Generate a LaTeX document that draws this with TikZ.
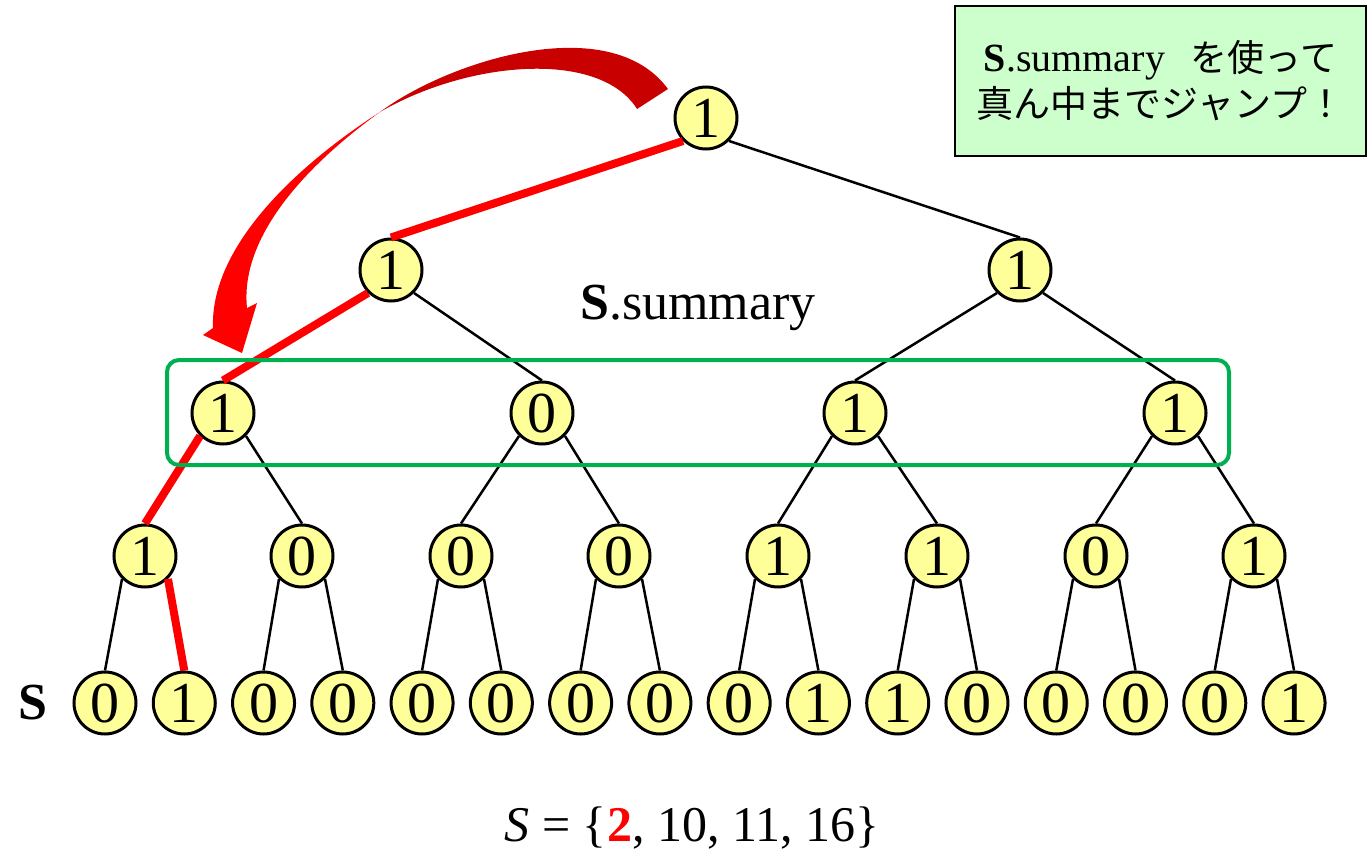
\documentclass[tikz,border=0pt]{standalone}
\usepackage{fontspec}
\setmainfont{Liberation Serif}
\newfontfamily\jpfont{Noto Sans CJK JP}
\definecolor{nodefill}{HTML}{FFFF99}
\definecolor{boxgreen}{HTML}{00B050}
\definecolor{notefill}{HTML}{CCFFCC}
\definecolor{darkarrow}{HTML}{C80000}
\begin{document}
\begin{tikzpicture}[x=1pt,y=-1pt,
  bit/.style={circle,draw,line width=3pt,fill=nodefill,minimum size=62pt,inner sep=0pt,
              font=\fontsize{58}{58}\selectfont},
  edge/.style={line width=2.5pt,black},
  hot/.style={line width=8pt,red},
  label/.style={inner sep=0pt,font=\fontsize{52}{52}\selectfont}]
\useasboundingbox (0,0) rectangle (1369,856);

% leaves: the bit vector S
\foreach \b [count=\i] in {0,1,0,0,0,0,0,0,0,1,1,0,0,0,0,1}
  \node[bit] (L\i) at ({105+79.27*(\i-1)},703) {\b};
% summary levels
\foreach \b/\x [count=\i] in {1/145,0/302,0/461,0/619,1/778,1/937,0/1096,1/1254}
  \node[bit] (M\i) at (\x,556) {\b};
\foreach \b/\x [count=\i] in {1/223,0/542,1/855,1/1175}
  \node[bit] (N\i) at (\x,413) {\b};
\node[bit] (P1) at (391,270) {1};
\node[bit] (P2) at (1020,270) {1};
\node[bit] (R) at (706,118) {1};

% tree edges
\foreach \i [evaluate=\i as \a using int(2*\i-1), evaluate=\i as \c using int(2*\i)] in {1,...,8} {
  \draw[edge] (M\i.-135) -- (L\a.north);
  \draw[edge] (M\i.-45) -- (L\c.north);
}
\foreach \i [evaluate=\i as \a using int(2*\i-1), evaluate=\i as \c using int(2*\i)] in {1,...,4} {
  \draw[edge] (N\i.-135) -- (M\a.north);
  \draw[edge] (N\i.-45) -- (M\c.north);
}
\foreach \i [evaluate=\i as \a using int(2*\i-1), evaluate=\i as \c using int(2*\i)] in {1,2} {
  \draw[edge] (P\i.-135) -- (N\a.north);
  \draw[edge] (P\i.-45) -- (N\c.north);
}
\draw[edge] (R.-135) -- (P1.north);
\draw[edge] (R.-45) -- (P2.north);

% search path down to element 2
\draw[hot] (R.-135) -- (P1.north);
\draw[hot] (P1.-135) -- (N1.north);
\draw[hot] (N1.-135) -- (M1.north);
\draw[hot] (M1.-45) -- (L2.north);

% summary level frame
\draw[boxgreen,line width=4pt,rounded corners=12pt] (167,360) rectangle (1229,465);

% jump arrow: back half (dark) and front half with head (bright)
\fill[darkarrow] (380,112) .. controls (450,60) and (610,10) .. (668,89)
  -- (637,109) .. controls (600,50) and (470,60) .. (380,112) -- cycle;
\fill[red] (380,112) .. controls (290,170) and (210,250) .. (213,328)
  -- (203,335) -- (242,353) -- (257,303) -- (247,308)
  .. controls (240,240) and (300,170) .. (380,112) -- cycle;

% labels
\node[label] (sumlabel) at (698,308) {\textbf{S}.summary};
\node[label] (setname) at (33,703) {\textbf{S}};
\node[label,font=\fontsize{50}{50}\selectfont] (setdef) at (692,828)
  {\textit{S} = \{\textcolor{red}{\textbf{2}}, 10, 11, 16\}};

% note box
\node[draw,line width=2pt,fill=notefill,minimum width=411pt,minimum height=150pt,
      align=center,inner sep=0pt,font=\fontsize{37}{46}\selectfont] (note) at (1160.5,81)
  {{\fontsize{40}{46}\selectfont\textbf{S}.summary}\hspace{26pt}{\jpfont を使って}\\{\jpfont 真ん中までジャンプ！}};
\end{tikzpicture}
\end{document}
